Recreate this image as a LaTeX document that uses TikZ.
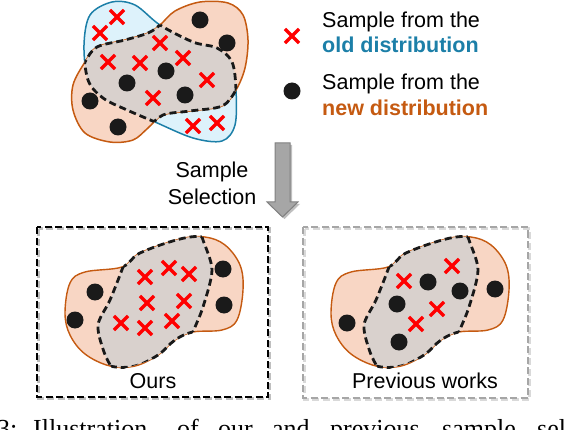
\documentclass[tikz,border=0pt]{standalone}
\usepackage{fontspec}
\setmainfont{Liberation Sans}
\newfontfamily\capfont{Liberation Serif}
\usetikzlibrary{shapes.misc}

\definecolor{oldblue}{HTML}{1C7FA8}
\definecolor{oldfill}{HTML}{DDF2FB}
\definecolor{neworange}{HTML}{C55A11}
\definecolor{newfill}{HTML}{F8D6C4}
\definecolor{overlap}{HTML}{D9D1CD}
\definecolor{dotblack}{HTML}{1A1A1A}
\definecolor{arrowgray}{HTML}{A6A6A6}

\tikzset{
  oldpt/.style={cross out, draw=red, line width=3.2pt, minimum size=11pt, inner sep=0pt},
  newpt/.style={circle, fill=dotblack, minimum size=17pt, inner sep=0pt},
  border/.style={black!90, line width=2.8pt, dash pattern=on 7pt off 4pt},
  txt/.style={font=\fontsize{21.5}{24}\selectfont, inner sep=0pt},
  captxt/.style={font=\capfont\fontsize{26}{29}\selectfont, inner sep=0pt, anchor=base west},
  panelbox/.style={line width=2.4pt, dash pattern=on 7pt off 3.5pt},
}

% the two distributions of the top picture
\def\oldblob{plot[smooth cycle, tension=0.55] coordinates {(84,45) (90,15) (112,2) (135,5) (160,25) (193,42) (217,48) (232,62) (236,90) (235,125) (222,141) (193,138) (155,122) (127,110) (103,98) (88,80)}}
\def\newblob{plot[smooth cycle, tension=0.55] coordinates {(160,25) (175,11) (200,2) (228,3) (243,15) (248,40) (245,68) (236,90) (222,106) (190,111) (163,115) (148,128) (133,140) (110,142) (85,133) (73,110) (73,85) (85,62) (97,47) (125,40) (148,33)}}
% the new distribution of the bottom pictures, and the selected band
\def\panelblob{plot[smooth cycle, tension=0.6] coordinates {(65,313) (70,283) (85,272) (122,267) (140,253) (180,239) (205,237) (225,245) (240,265) (243,290) (237,320) (222,330) (193,332) (175,340) (158,355) (135,366) (110,366) (85,354) (70,335)}}
\def\bandL{plot[smooth] coordinates {(130,245) (123,267) (110,300) (98,325) (104,352) (114,372)}}
\def\bandR{plot[smooth] coordinates {(188,348) (193,332) (203,307) (212,270) (203,240) (198,225)}}
\def\band{plot[smooth] coordinates {(130,245) (123,267) (110,300) (98,325) (104,352) (114,372)} -- plot[smooth] coordinates {(188,348) (193,332) (203,307) (212,270) (203,240) (198,225)} -- cycle}

\newcommand{\selpanel}{%
  \fill[newfill] \panelblob;
  \draw[neworange, line width=1.4pt] \panelblob;
  \begin{scope}
    \clip \panelblob;
    \fill[overlap] \band;
    \draw[border] \bandL;
    \draw[border] \bandR;
  \end{scope}
  \begin{scope}
    \clip \band;
    \draw[border] \panelblob;
  \end{scope}}

\begin{document}
\begin{tikzpicture}[x=1pt, y=-1pt]
  \useasboundingbox (0,0) rectangle (564,430);
  \clip (0,0) rectangle (564,430);

  % top: old and new distributions
  \fill[oldfill] \oldblob;
  \draw[oldblue, line width=1.5pt] \oldblob;
  \fill[newfill] \newblob;
  \draw[neworange, line width=1.5pt] \newblob;
  \begin{scope}
    \clip \oldblob;
    \fill[overlap] \newblob;
    \draw[border] \newblob;
  \end{scope}
  \begin{scope}
    \clip \newblob;
    \draw[border] \oldblob;
  \end{scope}
  \foreach \p [count=\i] in {(117,17),(100,33),(160,43),(108,62),(140,63),(183,58),(207,80),(153,98),(193,126),(217,123)}
    \node[oldpt] (top-old-\i) at \p {};
  \foreach \p [count=\i] in {(200,20),(227,43),(166,71),(127,83),(185,95),(90,101),(118,127)}
    \node[newpt] (top-new-\i) at \p {};

  % legend
  \node[oldpt] (key-old) at (292,36) {};
  \node[newpt] (key-new) at (292,91) {};
  \node[txt, anchor=base west] (key-old-a) at (322,28) {Sample from the};
  \node[txt, anchor=base west, text=oldblue] (key-old-b) at (322,53) {\bfseries old distribution};
  \node[txt, anchor=base west] (key-new-a) at (322,90) {Sample from the};
  \node[txt, anchor=base west, text=neworange] (key-new-b) at (322,116) {\bfseries new distribution};

  % selection arrow
  \fill[black, opacity=0.25] (277,145) -- (292,145) -- (292,204) -- (300,204) -- (284.5,219) -- (269,204) -- (277,204) -- cycle;
  \filldraw[fill=arrowgray, draw=gray, line width=1pt] (275,143) -- (290,143) -- (290,202) -- (298,202) -- (282.5,217) -- (267,202) -- (275,202) -- cycle;
  \node[txt, anchor=base] (sel-a) at (212,178) {Sample};
  \node[txt, anchor=base] (sel-b) at (212,205) {Selection};

  % bottom left: ours
  \draw[panelbox, black!25, shift={(1.5,1.5)}] (37,227) rectangle (268,397);
  \draw[panelbox, black] (37,227) rectangle (268,397);
  \selpanel
  \foreach \p [count=\i] in {(145,277),(169,268),(189,274),(147,303),(184,301),(121,323),(145,328),(172,321)}
    \node[oldpt] (ours-old-\i) at \p {};
  \foreach \p [count=\i] in {(95,292),(75,320),(223,269),(224,305)}
    \node[newpt] (ours-new-\i) at \p {};
  \node[txt, anchor=base] (ours) at (153,388) {Ours};

  % bottom right: previous works
  \draw[panelbox, black!15, shift={(1.5,1.5)}] (303,227) rectangle (528,398);
  \draw[panelbox, arrowgray] (303,227) rectangle (528,398);
  \begin{scope}[shift={(266,0)}]
    \selpanel
  \end{scope}
  \foreach \p [count=\i] in {(404,281),(452,266),(437,309),(416,324)}
    \node[oldpt] (prev-old-\i) at \p {};
  \foreach \p [count=\i] in {(428,282),(460,291),(495,289),(397,304),(347,323),(399,342)}
    \node[newpt] (prev-new-\i) at \p {};
  \node[txt, anchor=base] (prev) at (425,388) {Previous works};

  % caption, cut by the page edge
  \node[captxt] (cap-1) at (-3,437) {3:};
  \node[captxt] (cap-2) at (33,437) {Illustration};
  \node[captxt] (cap-3) at (177,437) {of};
  \node[captxt] (cap-4) at (218,437) {our};
  \node[captxt] (cap-5) at (272,437) {and};
  \node[captxt] (cap-6) at (330,437) {previous};
  \node[captxt] (cap-7) at (442,437) {sample};
  \node[captxt] (cap-8) at (537,437) {selection};
\end{tikzpicture}
\end{document}
